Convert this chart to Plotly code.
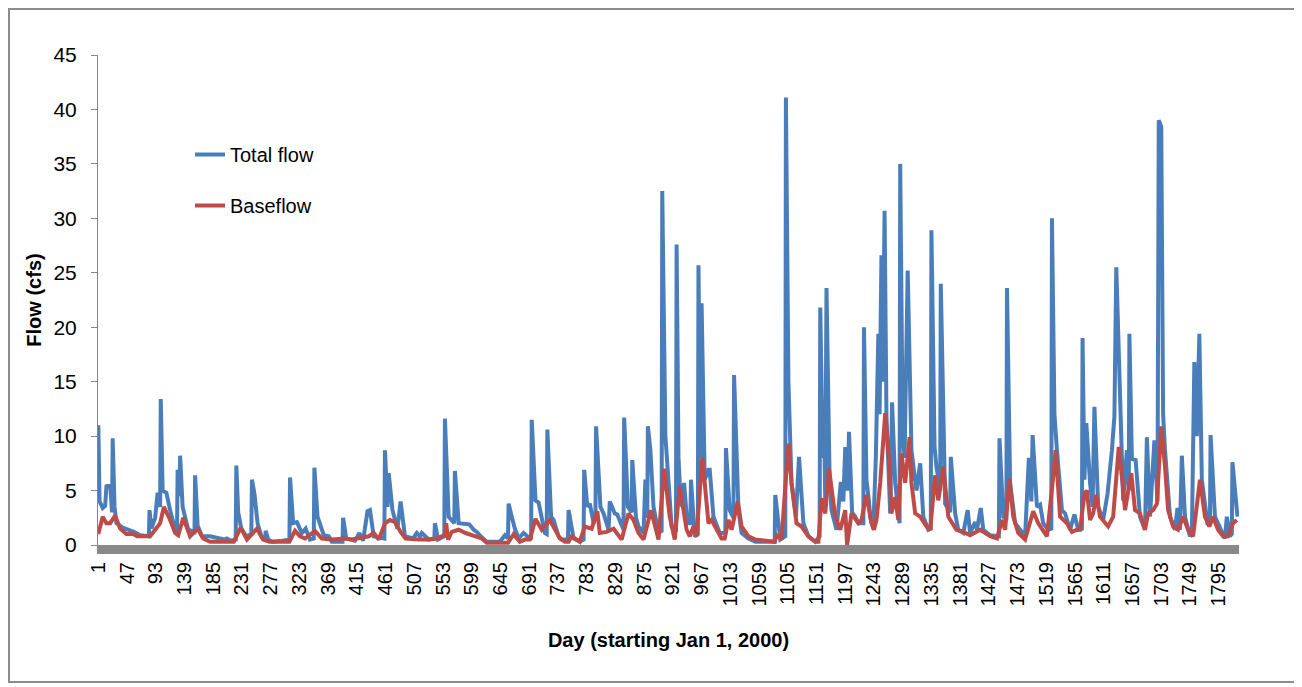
import plotly.graph_objects as go

# ---- data (breakpoints of each series) ----
days_total = [1, 3, 8, 12, 14, 20, 23, 24, 27, 30, 40, 50, 58, 68, 82, 83, 86, 92, 96, 100,
              101, 104, 110, 116, 124, 127, 128, 131, 132, 136, 145, 155, 156, 160, 167, 180, 192, 203, 207, 213,
              221, 222, 225, 230, 238, 246, 247, 251, 256, 262, 268, 269, 273, 280, 296, 307, 308, 313, 319, 327,
              333, 340, 346, 347, 352, 362, 370, 375, 392, 393, 398, 412, 419, 425, 432, 436, 442, 459, 460, 464,
              466, 472, 480, 485, 492, 505, 511, 516, 519, 530, 539, 540, 545, 555, 556, 562, 571, 572, 578, 589,
              595, 602, 607, 615, 623, 644, 652, 657, 658, 663, 668, 674, 682, 694, 695, 701, 706, 716, 719, 720,
              726, 730, 738, 743, 753, 754, 762, 772, 778, 779, 784, 788, 794, 797, 798, 805, 810, 818, 820, 828,
              832, 842, 843, 849, 855, 856, 862, 866, 874, 877, 880, 881, 885, 890, 898, 903, 904, 909, 914, 919,
              926, 927, 930, 932, 936, 939, 944, 949, 950, 956, 961, 962, 965, 967, 972, 978, 980, 986, 996, 1005,
              1006, 1012, 1018, 1019, 1026, 1031, 1042, 1053, 1084, 1085, 1093, 1101, 1102, 1106, 1111, 1118, 1123, 1130, 1138, 1149,
              1156, 1157, 1161, 1163, 1165, 1167, 1172, 1175, 1183, 1190, 1194, 1197, 1201, 1203, 1208, 1213, 1218, 1226, 1227, 1231,
              1235, 1237, 1242, 1244, 1246, 1250, 1252, 1255, 1257, 1260, 1263, 1269, 1272, 1277, 1282, 1284, 1285, 1289, 1292, 1297,
              1303, 1311, 1317, 1322, 1330, 1334, 1335, 1340, 1343, 1349, 1350, 1357, 1365, 1366, 1373, 1378, 1386, 1393, 1397, 1405,
              1408, 1414, 1418, 1429, 1443, 1444, 1450, 1455, 1456, 1461, 1469, 1485, 1491, 1495, 1497, 1504, 1509, 1514, 1522, 1527,
              1528, 1532, 1536, 1544, 1549, 1557, 1564, 1570, 1576, 1577, 1580, 1583, 1589, 1593, 1596, 1602, 1610, 1617, 1624, 1628,
              1631, 1634, 1642, 1648, 1651, 1652, 1656, 1662, 1669, 1677, 1680, 1685, 1689, 1692, 1697, 1699, 1703, 1706, 1709, 1717,
              1725, 1729, 1733, 1736, 1741, 1749, 1752, 1756, 1760, 1764, 1768, 1773, 1777, 1781, 1782, 1789, 1800, 1805, 1808, 1813,
              1816, 1817, 1825]
total_flow = [11.0, 4.0, 3.4, 3.6, 5.4, 5.5, 3.0, 9.8, 3.5, 2.0, 1.6, 1.4, 1.2, 0.9, 0.8, 3.2, 1.5, 2.5, 4.8, 3.5,
              13.4, 5.0, 4.8, 3.2, 1.4, 1.2, 6.9, 4.5, 8.2, 3.5, 1.4, 1.2, 6.4, 1.8, 0.8, 0.8, 0.6, 0.5, 0.6, 0.4,
              0.5, 7.3, 3.0, 1.5, 0.8, 1.0, 6.0, 4.7, 2.0, 0.8, 0.5, 1.3, 0.5, 0.3, 0.4, 0.5, 6.2, 2.0, 2.1, 1.1,
              1.5, 0.5, 0.6, 7.1, 2.6, 0.9, 0.8, 0.3, 0.3, 2.5, 0.6, 0.4, 1.1, 0.4, 3.1, 3.2, 0.8, 0.6, 8.7, 3.5,
              6.6, 3.2, 1.5, 4.0, 0.8, 0.6, 1.1, 0.8, 1.1, 0.5, 0.6, 2.0, 0.5, 0.8, 11.6, 2.6, 2.0, 6.8, 2.0, 1.9,
              1.9, 1.4, 1.2, 0.7, 0.3, 0.3, 0.9, 0.6, 3.8, 2.6, 1.5, 0.6, 1.1, 0.5, 11.5, 4.1, 3.9, 1.1, 1.0, 10.6,
              2.6, 2.3, 0.8, 0.5, 0.5, 3.2, 0.6, 0.3, 0.5, 6.9, 3.5, 3.8, 2.0, 2.5, 10.9, 3.5, 2.9, 1.4, 4.0, 2.9,
              2.8, 1.4, 11.7, 3.5, 3.0, 7.8, 2.5, 1.7, 1.1, 6.0, 2.5, 10.9, 8.7, 3.5, 1.1, 1.3, 32.5, 10.0, 5.7, 1.7,
              1.5, 27.6, 8.0, 5.7, 3.5, 5.7, 2.0, 2.0, 6.0, 0.8, 1.0, 25.7, 8.0, 22.2, 6.0, 6.9, 6.9, 2.6, 1.1, 1.1,
              8.9, 3.2, 2.5, 15.6, 3.2, 1.1, 0.6, 0.3, 0.3, 4.6, 0.5, 0.8, 41.1, 15.0, 5.7, 2.6, 8.1, 2.0, 0.8, 0.3,
              0.8, 21.8, 8.0, 11.8, 4.0, 23.6, 6.0, 3.2, 1.4, 5.8, 4.0, 9.0, 5.0, 10.4, 3.0, 2.6, 2.0, 2.0, 20.0, 6.0,
              4.0, 2.6, 1.5, 4.0, 8.1, 19.4, 12.0, 26.6, 15.0, 30.7, 11.8, 2.9, 13.1, 5.7, 2.6, 2.0, 35.0, 10.2, 8.0, 25.2,
              8.7, 5.0, 7.5, 2.6, 1.4, 1.5, 28.9, 9.0, 7.2, 5.0, 24.0, 3.8, 3.0, 8.1, 2.9, 1.4, 1.1, 3.2, 1.1, 2.1,
              1.4, 3.4, 1.4, 0.9, 0.8, 9.8, 2.6, 2.5, 23.6, 5.7, 2.0, 0.8, 8.0, 4.0, 10.1, 3.5, 3.7, 2.0, 1.4, 1.5,
              30.0, 12.0, 8.7, 3.2, 2.9, 1.4, 2.8, 1.4, 1.5, 19.0, 6.0, 11.2, 5.7, 3.5, 12.7, 3.5, 2.3, 4.7, 8.7, 11.8,
              25.5, 19.4, 4.1, 8.7, 5.0, 19.4, 7.9, 7.8, 2.6, 1.4, 9.9, 2.6, 6.6, 9.6, 4.0, 39.0, 38.4, 12.0, 8.7, 2.6,
              1.4, 3.4, 1.4, 8.2, 2.6, 0.8, 1.0, 16.8, 10.0, 19.4, 6.0, 4.1, 2.0, 2.0, 10.1, 2.6, 1.1, 0.6, 2.6, 0.8,
              1.0, 7.6, 2.6]

days_base = [1, 8, 14, 20, 28, 36, 46, 57, 63, 84, 92, 100, 106, 116, 124, 129, 137, 148, 160, 169,
             180, 200, 218, 229, 239, 255, 265, 275, 307, 316, 324, 332, 348, 359, 375, 396, 407, 434, 442, 450,
             460, 468, 476, 485, 493, 514, 530, 543, 556, 558, 561, 567, 578, 589, 599, 615, 623, 657, 666, 676,
             684, 692, 701, 711, 724, 732, 740, 748, 754, 759, 767, 772, 780, 791, 800, 804, 815, 826, 831, 839,
             850, 858, 866, 874, 886, 898, 907, 916, 924, 932, 938, 943, 948, 954, 959, 968, 972, 978, 983, 991,
             999, 1004, 1010, 1015, 1025, 1031, 1042, 1053, 1084, 1087, 1095, 1106, 1111, 1119, 1127, 1138, 1149, 1154, 1159, 1165,
             1171, 1181, 1189, 1197, 1200, 1207, 1218, 1223, 1231, 1239, 1243, 1247, 1253, 1261, 1268, 1271, 1277, 1282, 1287, 1293,
             1300, 1303, 1309, 1317, 1327, 1333, 1341, 1346, 1354, 1362, 1368, 1375, 1386, 1397, 1413, 1429, 1440, 1448, 1453, 1460,
             1466, 1474, 1485, 1493, 1498, 1506, 1514, 1520, 1529, 1534, 1541, 1552, 1560, 1568, 1573, 1580, 1584, 1589, 1594, 1599,
             1605, 1610, 1618, 1626, 1635, 1641, 1645, 1655, 1661, 1669, 1677, 1682, 1690, 1696, 1703, 1709, 1714, 1722, 1730, 1738,
             1746, 1754, 1760, 1765, 1773, 1780, 1786, 1794, 1802, 1810, 1818, 1824]
baseflow = [1.0, 2.6, 2.0, 2.0, 2.7, 1.5, 1.0, 1.0, 0.8, 0.8, 1.4, 2.0, 3.5, 2.3, 1.1, 0.9, 2.5, 0.8, 1.5, 0.6,
            0.3, 0.3, 0.3, 1.6, 0.5, 1.5, 0.5, 0.3, 0.3, 1.3, 0.8, 0.6, 1.3, 0.6, 0.5, 0.6, 0.5, 0.8, 1.1, 0.5,
            2.0, 2.3, 2.1, 1.2, 0.6, 0.5, 0.5, 0.6, 0.9, 2.0, 0.5, 1.2, 1.4, 1.1, 0.9, 0.6, 0.2, 0.2, 1.0, 0.3,
            0.5, 0.5, 2.4, 1.4, 2.3, 1.4, 0.6, 0.3, 0.3, 0.8, 0.5, 0.3, 1.7, 1.5, 3.1, 1.1, 1.2, 1.5, 1.1, 0.5,
            2.9, 2.3, 1.1, 0.5, 3.2, 0.5, 7.0, 2.6, 0.5, 5.4, 3.2, 1.4, 0.8, 1.7, 0.8, 8.0, 5.7, 2.0, 2.3, 1.4,
            0.6, 0.6, 2.3, 1.4, 4.0, 1.7, 0.8, 0.5, 0.3, 0.9, 0.5, 9.3, 5.7, 2.0, 1.7, 0.8, 0.3, 0.3, 4.3, 2.9,
            7.0, 2.6, 1.4, 3.2, 0.0, 2.9, 2.0, 2.3, 4.6, 2.0, 1.4, 2.3, 5.7, 12.1, 7.2, 2.9, 4.4, 2.3, 8.4, 5.7,
            9.9, 5.7, 2.9, 2.6, 1.7, 1.4, 6.4, 4.1, 7.2, 2.6, 2.0, 1.4, 1.2, 0.9, 1.4, 0.8, 0.6, 2.3, 1.4, 6.1,
            2.6, 1.1, 0.5, 2.0, 3.1, 2.0, 1.4, 0.8, 5.7, 8.7, 2.6, 2.0, 1.2, 1.4, 1.4, 4.7, 5.0, 2.3, 2.9, 4.6,
            2.6, 2.3, 1.7, 2.6, 9.0, 5.7, 3.2, 6.6, 3.2, 2.9, 1.4, 2.9, 3.2, 3.8, 10.9, 7.2, 3.2, 1.7, 1.4, 2.6,
            1.4, 0.8, 3.8, 6.0, 2.6, 1.7, 2.6, 1.4, 0.8, 0.8, 2.0, 2.3]

tick_days = [1, 47, 93, 139, 185, 231, 277, 323, 369, 415, 461, 507, 553, 599, 645, 691, 737, 783,
             829, 875, 921, 967, 1013, 1059, 1105, 1151, 1197, 1243, 1289, 1335, 1381, 1427, 1473,
             1519, 1565, 1611, 1657, 1703, 1749, 1795]
n_days = 1827

FONT = "Liberation Sans"
W, H = 1294, 679            # page body has an 8px margin
L, R, T, B = 90, 1231, 47, 537
pw, ph = R - L, B - T

fig = go.Figure()
fig.add_trace(go.Scatter(x=days_total, y=total_flow, mode="lines", name="Total flow",
                         legendgroup="a", line=dict(color="#4a7ebb", width=4)))
fig.add_trace(go.Scatter(x=days_base, y=baseflow, mode="lines", name="Baseflow",
                         legendgroup="b", line=dict(color="#be4b48", width=4)))

fig.update_layout(
    width=W, height=H,
    margin=dict(l=L, r=W - R, t=T, b=H - B, pad=0),
    paper_bgcolor="white", plot_bgcolor="white",
    font=dict(family=FONT, size=20, color="#000000"),
    showlegend=True,
    legend=dict(x=(182 - L) / pw, y=(B - 127) / ph, xanchor="left", yanchor="top",
                bgcolor="rgba(0,0,0,0)", font=dict(size=20, family=FONT),
                traceorder="grouped", tracegroupgap=22),
    xaxis=dict(range=[0.5, n_days + 0.5], tickmode="array", tickvals=tick_days,
               ticktext=[str(d) for d in tick_days], tickangle=-90,
               showgrid=False, zeroline=False, showline=True, linecolor="#898989",
               linewidth=9, ticks="", tickfont=dict(size=20, family=FONT),
               title=dict(text="<b>Day (starting Jan 1, 2000)</b>", standoff=31,
                          font=dict(size=20, family=FONT))),
    yaxis=dict(range=[0, 45], dtick=5, showgrid=False, zeroline=False,
               showline=True, linecolor="#868686", linewidth=1,
               ticks="outside", ticklen=6, tickcolor="#868686",
               tickfont=dict(size=21, family=FONT), ticklabelstandoff=10,
               title=dict(text="<b>Flow (cfs)</b>", standoff=6,
                          font=dict(size=20, family=FONT))),
    shapes=[dict(type="rect", xref="paper", yref="paper",
                 x0=(1 - L) / pw, x1=(1289 - L) / pw,
                 y0=(B - 674) / ph, y1=(B - 1) / ph,
                 line=dict(color="#8c8c8c", width=2), fillcolor="rgba(0,0,0,0)", layer="below")],
)

fig.write_html("out.html")
